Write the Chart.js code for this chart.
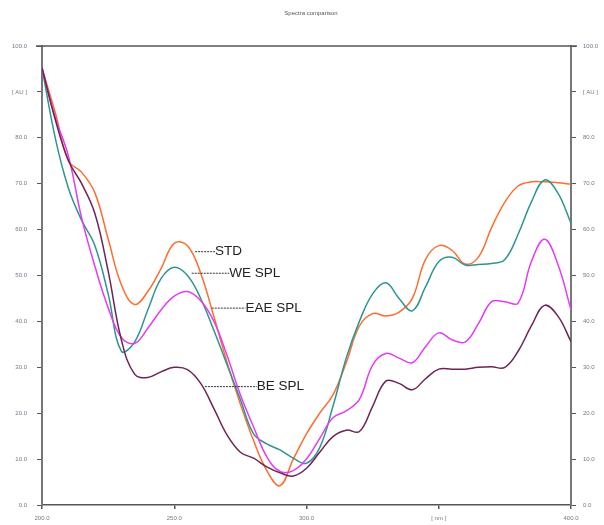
<!DOCTYPE html>
<html lang="en">
<head>
<meta charset="UTF-8">
<title>Spectra comparison</title>
<style>
  html,body{margin:0;padding:0;background:#fff;}
  #wrap{width:604px;height:525px;}
</style>
</head>
<body>
<div id="wrap"><canvas id="c" width="604" height="525"></canvas></div>
<script src="https://cdn.jsdelivr.net/npm/chart.js"></script>
<script>
"use strict";

// wavelengths in nm, 5 nm step
const wavelengths = [200,205,210,215,220,225,230,235,240,245,250,255,260,265,270,275,280,285,290,295,300,
                     305,310,315,320,325,330,335,340,345,350,355,360,365,370,375,380,385,390,395,400];

const std   = [95.2,85.5,75.0,72.5,68.0,58.0,48.0,43.7,46.5,51.5,57.0,56.5,50.5,41.0,31.0,22.0,14.0,7.5,4.2,10.0,15.5,
               20.0,24.0,31.0,39.0,41.7,41.2,42.0,45.0,53.5,56.5,55.5,52.5,54.0,60.5,66.0,69.5,70.4,70.4,70.2,69.9];
const weSpl = [95.2,80.0,69.0,62.0,56.5,46.0,33.5,35.5,42.5,49.3,51.8,50.0,45.0,38.0,30.5,23.0,15.5,13.3,12.0,10.2,9.1,
               12.5,21.5,32.0,40.0,46.0,48.4,45.0,42.3,47.5,53.0,54.0,52.3,52.4,52.6,53.5,59.0,66.0,70.8,68.0,61.4];
const eaeSpl= [95.2,84.5,76.0,62.5,52.0,43.0,36.5,35.2,38.5,42.5,45.5,46.5,44.5,40.0,32.5,24.0,17.0,10.5,7.3,7.5,10.0,
               14.5,19.0,20.5,23.0,30.5,33.0,32.0,31.0,34.5,37.5,36.0,35.5,39.5,44.3,44.3,44.0,53.0,57.9,52.5,42.5];
const beSpl = [95.2,84.0,75.0,70.0,63.5,51.0,36.0,28.5,27.8,29.0,30.0,29.5,26.5,21.0,15.2,11.5,10.2,8.3,7.0,6.3,8.0,
               11.5,14.9,16.3,16.0,21.5,27.0,26.5,25.1,27.5,29.6,29.6,29.6,30.0,30.1,30.0,33.5,39.0,43.5,41.2,35.6];

const seriesNames = ["STD","WE SPL","EAE SPL","BE SPL"];
const xTickValues = [200,250,300,350,400];
const xTickLabels = ["200.0","250.0","300.0","[ nm ]","400.0"];
const yUnitTick = 90;   // this tick shows the unit
const yUnitLabel = "[ AU ]";

const colors = ["#ff6d2e","#2f9590","#e43cf5","#6e2456"];
const tickFont = {family:"Liberation Sans, Arial, sans-serif", size:6};
const tickColor = "#707888";

function pts(arr){ return wavelengths.map((w,i)=>({x:w,y:arr[i]})); }

// leader labels: [series index, leader start nm, text start nm, y AU]
const leaders = [
  [0,257.9,265.4,55.3],
  [1,256.6,270.8,50.6],
  [2,264.2,276.9,43.0],
  [3,261.6,281.2,25.9]
];

const framePlugin = {
  id:"frame",
  afterDraw(chart){
    const c = chart.ctx, a = chart.chartArea;
    const xs = chart.scales.x, ys = chart.scales.y;
    c.save();
    // top border
    c.strokeStyle = "#555";
    c.lineWidth = 1.5;
    c.beginPath();
    c.moveTo(a.left-6, a.top); c.lineTo(a.right+6, a.top);
    c.stroke();
    // title
    c.fillStyle = "#555";
    c.font = "6px Liberation Sans, Arial, sans-serif";
    c.textAlign = "center";
    c.textBaseline = "middle";
    c.fillText("Spectra comparison", 311, 13);
    // series labels with dashed leaders
    c.font = "13.5px Liberation Sans, Arial, sans-serif";
    c.textAlign = "left";
    leaders.forEach(l=>{
      const x0 = xs.getPixelForValue(l[1]);
      const x1 = xs.getPixelForValue(l[2]);
      const y = ys.getPixelForValue(l[3]);
      c.strokeStyle = "#333";
      c.lineWidth = 1;
      c.setLineDash([2,1]);
      c.beginPath(); c.moveTo(x0,y+0.5); c.lineTo(x1,y+0.5); c.stroke();
      c.setLineDash([]);
      c.fillStyle = "#222";
      c.fillText(seriesNames[l[0]], x1, y+0.5);
    });
    c.restore();
  }
};

const datasets = [std,weSpl,eaeSpl,beSpl].map((arr,i)=>({
  label: seriesNames[i],
  data: pts(arr),
  borderColor: colors[i],
  borderWidth: 1.5,
  pointRadius: 0,
  fill: false,
  tension: 0.4
})).reverse();

new Chart(document.getElementById("c"), {
  type: "line",
  data: { datasets },
  options: {
    responsive: false,
    animation: false,
    layout: { padding: { top: 46, left: 0, right: 0, bottom: 0 } },
    plugins: { legend:{display:false}, title:{display:false}, tooltip:{enabled:false} },
    scales: {
      x: {
        type: "linear", min: 200, max: 400,
        afterBuildTicks(s){ s.ticks = xTickValues.map(v=>({value:v})); },
        afterFit(s){ s.height = 20; },
        ticks: { callback:(v)=>xTickLabels[xTickValues.indexOf(v)], font: tickFont, color: tickColor, padding: 6, maxRotation:0, autoSkip:false },
        grid: { drawOnChartArea:false, drawTicks:true, tickLength:4, color:"#555", lineWidth:1.5 },
        border: { display:true, color:"#555", width:1.5 }
      },
      y: {
        position: "left", min: 0, max: 100,
        afterFit(s){ s.width = 42; },
        ticks: { stepSize:10, callback:(v)=> v===yUnitTick ? yUnitLabel : v.toFixed(1), font: tickFont, color: tickColor, padding: 10 },
        grid: { drawOnChartArea:false, drawTicks:true, tickLength:5, color:"#555", lineWidth:1 },
        border: { display:true, color:"#777", width:2 }
      },
      y2: {
        position: "right", min: 0, max: 100,
        afterFit(s){ s.width = 33; },
        ticks: { stepSize:10, callback:(v)=> v===yUnitTick ? yUnitLabel : v.toFixed(1), font: tickFont, color: tickColor, padding: 7 },
        grid: { drawOnChartArea:false, drawTicks:true, tickLength:5, color:"#555", lineWidth:1 },
        border: { display:true, color:"#777", width:2 }
      }
    }
  },
  plugins: [framePlugin]
});
</script>
</body>
</html>
